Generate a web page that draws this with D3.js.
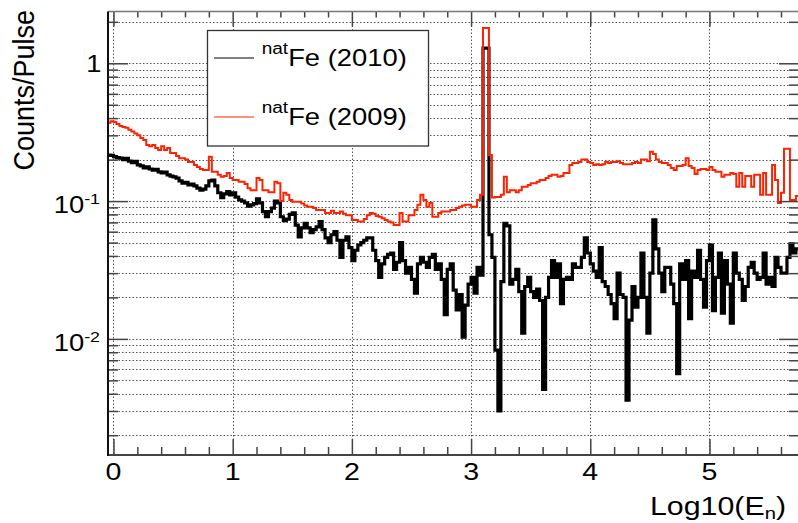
<!DOCTYPE html>
<html>
<head>
<meta charset="utf-8">
<script src="https://cdn.jsdelivr.net/npm/d3@7"></script>
<style>
  body { margin: 0; background: #fff; }
  svg { display: block; }
  text { font-family: "Liberation Sans", Arial, Helvetica, sans-serif; fill: #000; }
</style>
</head>
<body>
<svg id="chart" width="798" height="523"></svg>
<script>
// histogram binning (log10 of neutron energy)
const binStart = -0.05;
const binWidth = 0.025;

// natFe 2010, counts per pulse per bin
const fe2010 = [
  0.216, 0.215, 0.21, 0.207, 0.205, 0.2, 0.204, 0.195, 0.19, 0.194,
  0.183, 0.18, 0.174, 0.177, 0.171, 0.168, 0.17, 0.163, 0.16, 0.162,
  0.155, 0.152, 0.15, 0.147, 0.14, 0.135, 0.137, 0.131, 0.133, 0.129,
  0.124, 0.12, 0.122, 0.129, 0.14, 0.142, 0.129, 0.115, 0.106, 0.113,
  0.117, 0.111, 0.115, 0.107, 0.102, 0.1, 0.097, 0.092, 0.094, 0.096,
  0.104, 0.097, 0.084, 0.077, 0.084, 0.089, 0.1, 0.097, 0.077, 0.072,
  0.074, 0.08, 0.082, 0.067, 0.055, 0.064, 0.069, 0.064, 0.059, 0.062,
  0.065, 0.071, 0.062, 0.054, 0.05, 0.057, 0.06, 0.052, 0.039, 0.052,
  0.055, 0.046, 0.037, 0.044, 0.048, 0.05, 0.052, 0.054, 0.054, 0.044,
  0.037, 0.028, 0.035, 0.039, 0.041, 0.042, 0.032, 0.036, 0.05, 0.037,
  0.03, 0.033, 0.027, 0.0215, 0.035, 0.039, 0.036, 0.033, 0.039, 0.041,
  0.032, 0.035, 0.027, 0.015, 0.032, 0.035, 0.0226, 0.0162, 0.021, 0.0103,
  0.0176, 0.025, 0.028, 0.0215, 0.033, 0.029, 1.29, 1.29, 0.057, 0.039,
  0.0083, 0.003, 0.026, 0.069, 0.066, 0.025, 0.027, 0.032, 0.022, 0.011,
  0.024, 0.028, 0.022, 0.02, 0.023, 0.019, 0.0043, 0.02, 0.028, 0.037,
  0.028, 0.035, 0.018, 0.027, 0.028, 0.027, 0.035, 0.033, 0.033, 0.039,
  0.054, 0.042, 0.035, 0.031, 0.028, 0.046, 0.026, 0.024, 0.021, 0.018,
  0.014, 0.03, 0.021, 0.02, 0.0036, 0.0137, 0.024, 0.017, 0.02, 0.042,
  0.02, 0.011, 0.03, 0.073, 0.045, 0.03, 0.022, 0.033, 0.033, 0.025,
  0.018, 0.0056, 0.035, 0.027, 0.037, 0.014, 0.031, 0.028, 0.044, 0.027,
  0.017, 0.037, 0.048, 0.016, 0.028, 0.042, 0.0154, 0.037, 0.025, 0.013,
  0.042, 0.03, 0.027, 0.019, 0.024, 0.033, 0.036, 0.03, 0.027, 0.028,
  0.042, 0.025, 0.028, 0.024, 0.039, 0.033, 0.03, 0.03, 0.039, 0.049,
  0.042, 0.045
];

// natFe 2009
const fe2009 = [
  0.37, 0.38, 0.375, 0.363, 0.35, 0.345, 0.34, 0.33, 0.32, 0.31,
  0.3, 0.287, 0.278, 0.255, 0.25, 0.255, 0.243, 0.235, 0.25, 0.235,
  0.243, 0.223, 0.223, 0.212, 0.205, 0.205, 0.2, 0.192, 0.192, 0.183,
  0.177, 0.171, 0.168, 0.168, 0.21, 0.163, 0.163, 0.155, 0.15, 0.152,
  0.16, 0.147, 0.142, 0.142, 0.138, 0.138, 0.133, 0.124, 0.12, 0.12,
  0.147, 0.142, 0.12, 0.12, 0.116, 0.116, 0.138, 0.135, 0.1, 0.115,
  0.111, 0.102, 0.099, 0.099, 0.099, 0.096, 0.093, 0.091, 0.091, 0.089,
  0.086, 0.086, 0.086, 0.082, 0.082, 0.085, 0.082, 0.082, 0.084, 0.081,
  0.079, 0.079, 0.073, 0.073, 0.071, 0.071, 0.074, 0.079, 0.082, 0.081,
  0.078, 0.077, 0.075, 0.073, 0.071, 0.07, 0.067, 0.067, 0.082, 0.071,
  0.071, 0.079, 0.079, 0.086, 0.094, 0.111, 0.102, 0.091, 0.097, 0.077,
  0.077, 0.082, 0.084, 0.084, 0.084, 0.086, 0.086, 0.089, 0.091, 0.093,
  0.094, 0.094, 0.091, 0.091, 0.102, 0.111, 1.8, 1.8, 0.216, 0.106,
  0.107, 0.107, 0.111, 0.15, 0.116, 0.12, 0.12, 0.116, 0.12, 0.127,
  0.127, 0.131, 0.135, 0.135, 0.138, 0.142, 0.142, 0.147, 0.152, 0.155,
  0.155, 0.15, 0.152, 0.16, 0.16, 0.183, 0.189, 0.189, 0.192, 0.2,
  0.2, 0.192, 0.189, 0.183, 0.185, 0.183, 0.185, 0.192, 0.189, 0.192,
  0.192, 0.195, 0.189, 0.185, 0.185, 0.185, 0.189, 0.192, 0.189, 0.2,
  0.2, 0.195, 0.228, 0.22, 0.2, 0.192, 0.189, 0.189, 0.183, 0.174,
  0.168, 0.18, 0.18, 0.183, 0.205, 0.18, 0.174, 0.157, 0.168, 0.171,
  0.171, 0.168, 0.177, 0.168, 0.163, 0.163, 0.15, 0.155, 0.155, 0.16,
  0.157, 0.127, 0.16, 0.127, 0.152, 0.152, 0.127, 0.155, 0.155, 0.111,
  0.16, 0.111, 0.111, 0.183, 0.142, 0.097, 0.115, 0.24, 0.24, 0.102,
  0.102, 0.109
];

const xMajorTicks = [0, 1, 2, 3, 4, 5];
const yDecades = [1, 0.1, 0.01];
const legendNames = ["Fe (2010)", "Fe (2009)"];
const legendColors = ["#000", "#ff2200"];

const svg = d3.select("#chart");
const plot = {left: 108, right: 799, top: 11.5, bottom: 455};
const sx = 1.19; // the picture's text is a bit wide

const x = d3.scaleLinear().domain([-0.046, 5.751]).range([plot.left, plot.right]);
const y = d3.scaleLog().domain([0.001437, 2.376]).range([plot.bottom, plot.top]);

const xMinor = d3.range(0, 5.7, 0.2).filter(v => Math.abs(v - Math.round(v)) > 0.01);
const yAll = y.ticks();
const yMinor = yAll.filter(v => !yDecades.some(d => Math.abs(d - v) < 1e-9));

svg.append("defs").append("clipPath").attr("id", "clip")
  .append("rect")
  .attr("x", plot.left).attr("y", plot.top)
  .attr("width", plot.right - plot.left).attr("height", plot.bottom - plot.top);

// dotted grid
const grid = svg.append("g")
  .attr("stroke", "#555").attr("stroke-width", 1).attr("stroke-dasharray", "1.5,2");
grid.selectAll(".gy").data(yAll).enter().append("line")
  .attr("x1", plot.left).attr("x2", plot.right)
  .attr("y1", d => Math.round(y(d)) + 0.5).attr("y2", d => Math.round(y(d)) + 0.5);
grid.selectAll(".gx").data(xMajorTicks).enter().append("line")
  .attr("y1", plot.top).attr("y2", plot.bottom)
  .attr("x1", d => Math.round(x(d)) + 0.5).attr("x2", d => Math.round(x(d)) + 0.5);

// histograms drawn as steps
function steps(values) {
  const pts = values.map((v, i) => [binStart + i * binWidth, v]);
  pts.push([binStart + values.length * binWidth, values[values.length - 1]]);
  return pts;
}
const line = d3.line().x(d => x(d[0])).y(d => y(d[1])).curve(d3.curveStepAfter);

const hist = svg.append("g").attr("clip-path", "url(#clip)");
hist.append("path").datum(steps(fe2010))
  .attr("fill", "none").attr("stroke", "#000").attr("stroke-width", 3.2)
  .attr("d", line);
hist.append("path").datum(steps(fe2009))
  .attr("fill", "none").attr("stroke", legendColors[1]).attr("stroke-width", 2)
  .attr("d", line);

// ticks, pointing into the frame
function tickAxis(axis, transform) {
  const g = svg.append("g").attr("transform", transform).call(axis);
  g.select(".domain").remove();
  g.selectAll("line").attr("stroke", "#444").attr("stroke-width", 1.5);
  g.selectAll("text").remove();
}
tickAxis(d3.axisRight(y).tickValues(yDecades).tickSize(20), `translate(${plot.left},0)`);
tickAxis(d3.axisRight(y).tickValues(yMinor).tickSize(10), `translate(${plot.left},0)`);
tickAxis(d3.axisLeft(y).tickValues(yDecades).tickSize(20), `translate(${plot.right},0)`);
tickAxis(d3.axisLeft(y).tickValues(yMinor).tickSize(10), `translate(${plot.right},0)`);
tickAxis(d3.axisTop(x).tickValues(xMajorTicks).tickSize(16), `translate(0,${plot.bottom})`);
tickAxis(d3.axisTop(x).tickValues(xMinor).tickSize(8), `translate(0,${plot.bottom})`);
tickAxis(d3.axisBottom(x).tickValues(xMajorTicks).tickSize(15), `translate(0,${plot.top})`);
tickAxis(d3.axisBottom(x).tickValues(xMinor).tickSize(6), `translate(0,${plot.top})`);

// frame
svg.append("line").attr("x1", plot.left).attr("x2", plot.right)
  .attr("y1", plot.top).attr("y2", plot.top).attr("stroke", "#777").attr("stroke-width", 1.5);
svg.append("line").attr("x1", plot.left).attr("x2", plot.right)
  .attr("y1", plot.bottom).attr("y2", plot.bottom).attr("stroke", "#444").attr("stroke-width", 2);
svg.append("line").attr("x1", plot.left).attr("x2", plot.left)
  .attr("y1", plot.top).attr("y2", plot.bottom + 1).attr("stroke", "#111").attr("stroke-width", 2);

// tick labels
function wideText(px, py, anchor, size) {
  return svg.append("text")
    .attr("transform", `translate(${px},${py}) scale(${sx},1)`)
    .attr("text-anchor", anchor)
    .style("font-size", size + "px");
}
xMajorTicks.forEach(v => {
  wideText(x(v), 480, "middle", 24).text(v);
});
yDecades.forEach(v => {
  const p = Math.round(Math.log10(v));
  if (p === 0) {
    wideText(101.5, y(v) + 8.3, "end", 23).text("1");
  } else {
    const t = wideText(100, y(v) + 12, "end", 23);
    t.append("tspan").text("10");
    t.append("tspan").attr("dy", -9).style("font-size", "15px").text(p);
  }
});

// axis titles
const xt = wideText(786, 514.5, "end", 25.5);
xt.append("tspan").text("Log10(E");
xt.append("tspan").attr("dy", 4).style("font-size", "17px").text("n");
xt.append("tspan").attr("dy", -4).text(")");

svg.append("text")
  .attr("transform", "translate(33.5,10) rotate(-90) scale(1,1.07)")
  .attr("text-anchor", "end")
  .style("font-size", "27px")
  .text("Counts/Pulse");

// legend
const legend = svg.append("g");
legend.append("rect")
  .attr("x", 207.5).attr("y", 30.5).attr("width", 221).attr("height", 115.5)
  .attr("fill", "#fff").attr("stroke", "#333").attr("stroke-width", 1.3);
legendNames.forEach((name, i) => {
  const ly = 58 + i * 59;
  legend.append("line")
    .attr("x1", 214).attr("x2", 254).attr("y1", ly).attr("y2", ly)
    .attr("stroke", legendColors[i]).attr("stroke-width", 1.2);
  const t = wideText(261.7, ly + 7.5, "start", 23);
  t.append("tspan").attr("dy", -12).style("font-size", "16px").text("nat");
  t.append("tspan").attr("dy", 12).text(name);
});
</script>
</body>
</html>
